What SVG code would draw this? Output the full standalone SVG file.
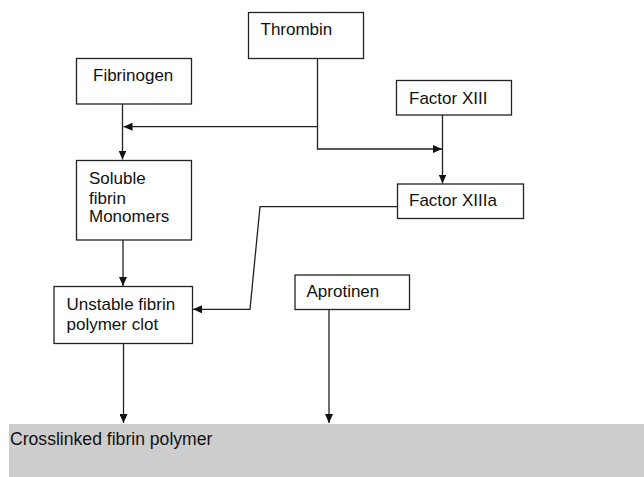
<svg xmlns="http://www.w3.org/2000/svg" width="644" height="477" viewBox="0 0 644 477">
<defs>
<marker id="arr" markerWidth="10" markerHeight="8" refX="9" refY="4" orient="auto" markerUnits="userSpaceOnUse">
<path d="M0,0 L9,4 L0,8 Z" fill="#111"/>
</marker>
<style>
.box{fill:#fff;stroke:#222;stroke-width:1.3}
.t{font-family:"Liberation Sans",Arial,sans-serif;font-size:17px;fill:#111}
.c{fill:none;stroke:#222;stroke-width:1.3}
</style>
</defs>
<rect width="644" height="477" fill="#fff"/>
<g id="crosslinked">
<rect x="9" y="424" width="635" height="53" fill="#cdcdcd"/>
<text class="t" x="10" y="445" style="font-size:17.6px">Crosslinked fibrin polymer</text>
</g>
<g id="thrombin">
<rect class="box" x="248.5" y="12.5" width="115" height="46"/>
<text class="t" x="260.5" y="35">Thrombin</text>
</g>
<g id="fibrinogen">
<rect class="box" x="76.5" y="58.5" width="115" height="45.5"/>
<text class="t" x="93" y="81">Fibrinogen</text>
</g>
<g id="factor13">
<rect class="box" x="396.5" y="80.5" width="115" height="34.5"/>
<text class="t" x="409" y="103.5">Factor XIII</text>
</g>
<g id="soluble">
<rect class="box" x="76.5" y="160.5" width="115" height="79.5"/>
<text class="t" x="89" y="183.5">Soluble</text>
<text class="t" x="89" y="203.5">fibrin</text>
<text class="t" x="89" y="222">Monomers</text>
</g>
<g id="factor13a">
<rect class="box" x="397.5" y="184" width="126" height="34.5"/>
<text class="t" x="409" y="206">Factor XIIIa</text>
</g>
<g id="unstable">
<rect class="box" x="54" y="286.5" width="138.5" height="57"/>
<text class="t" x="66.5" y="309.5">Unstable fibrin</text>
<text class="t" x="66.5" y="329.5">polymer clot</text>
</g>
<g id="aprotinen">
<rect class="box" x="295" y="275" width="114.5" height="34.5"/>
<text class="t" x="306.5" y="297">Aprotinen</text>
</g>
<g id="connectors">
<path class="c" d="M122.5,104 V159.5" marker-end="url(#arr)"/>
<path class="c" d="M317.5,58.5 V149 H442" marker-end="url(#arr)"/>
<path class="c" d="M317.5,126.7 H123.5" marker-end="url(#arr)"/>
<path class="c" d="M442.5,115 V183.5" marker-end="url(#arr)"/>
<path class="c" d="M397.5,206.7 H260 L250,309.3 H193" marker-end="url(#arr)"/>
<path class="c" d="M123,240 V286" marker-end="url(#arr)"/>
<path class="c" d="M123.5,343.5 V423" marker-end="url(#arr)"/>
<path class="c" d="M329,309.5 V423" marker-end="url(#arr)"/>
</g>
</svg>
